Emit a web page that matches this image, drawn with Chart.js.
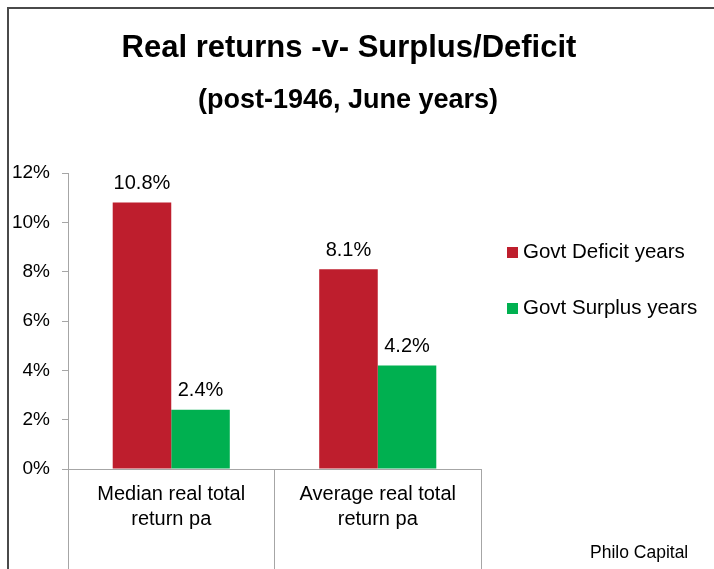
<!DOCTYPE html>
<html>
<head>
<meta charset="utf-8">
<script src="https://cdn.jsdelivr.net/npm/chart.js@4/dist/chart.umd.min.js"></script>
<style>
  html, body { margin: 0; padding: 0; background: #fff; }
  #wrap { width: 714px; height: 569px; position: relative; }
</style>
</head>
<body>
<div id="wrap"><canvas id="myChart" width="714" height="569"></canvas></div>
<script>
// chart data
const categories = [['Median real total', 'return pa'], ['Average real total', 'return pa']];
const deficitYears = [10.8, 8.1];
const surplusYears = [2.4, 4.2];
const seriesNames = ['Govt Deficit years', 'Govt Surplus years'];
const titleText = 'Real returns -v- Surplus/Deficit';
const subtitleText = '(post-1946, June years)';
const sourceText = 'Philo Capital';

const FONT = '"Liberation Sans", Arial, sans-serif';
const RED = '#BE1E2D';
const GREEN = '#00B050';

// frame, titles, value labels, legend and source note
const decorPlugin = {
    id: 'decor',
    beforeDraw(chart) {
        const c = chart.ctx;
        c.save();
        c.strokeStyle = '#4a4a4a';
        c.lineWidth = 2;
        c.beginPath();
        c.moveTo(chart.width, 8);
        c.lineTo(8, 8);
        c.lineTo(8, chart.height);
        c.stroke();
        c.restore();
    },
    afterDraw(chart) {
        const c = chart.ctx;
        c.save();
        c.fillStyle = '#000';
        c.textAlign = 'center';
        c.textBaseline = 'middle';
        c.font = 'bold 31px ' + FONT;
        c.fillText(titleText, 349, 48);
        c.font = 'bold 27px ' + FONT;
        c.fillText(subtitleText, 348, 101);

        // value labels above bars
        c.font = '20px ' + FONT;
        chart.data.datasets.forEach((ds, i) => {
            const meta = chart.getDatasetMeta(i);
            meta.data.forEach((bar, j) => {
                c.fillText(ds.data[j].toFixed(1) + '%', bar.x, bar.y - 19);
            });
        });

        // legend
        c.textAlign = 'left';
        c.font = '20.5px ' + FONT;
        chart.data.datasets.forEach((ds, i) => {
            const y = 252 + i * 56;
            c.fillStyle = ds.backgroundColor;
            c.fillRect(507, y - 5, 11, 11);
            c.fillStyle = '#000';
            c.fillText(ds.label, 523, y);
        });

        c.font = '17.5px ' + FONT;
        c.fillText(sourceText, 590, 553);
        c.restore();
    }
};

const ctx = document.getElementById('myChart').getContext('2d');
new Chart(ctx, {
    type: 'bar',
    data: {
        labels: categories,
        datasets: [
            { label: seriesNames[0], data: deficitYears, backgroundColor: RED },
            { label: seriesNames[1], data: surplusYears, backgroundColor: GREEN }
        ]
    },
    options: {
        responsive: false,
        animation: false,
        layout: { padding: { top: 173, right: 233, left: 0, bottom: 0 } },
        plugins: {
            legend: { display: false },
            title: { display: false },
            tooltip: { enabled: false }
        },
        datasets: {
            bar: { categoryPercentage: 0.567, barPercentage: 1.0 }
        },
        scales: {
            x: {
                afterFit: (s) => { s.height = 100; },
                border: { color: '#A6A6A6', width: 1 },
                grid: {
                    offset: true,
                    drawOnChartArea: false,
                    tickLength: 100,
                    color: '#A6A6A6'
                },
                ticks: {
                    padding: -87,
                    color: '#000',
                    font: { family: FONT, size: 20, lineHeight: 1.25 }
                }
            },
            y: {
                min: 0,
                max: 12,
                afterFit: (s) => { s.width = 68; },
                border: { color: '#A6A6A6', width: 1 },
                grid: { drawOnChartArea: false, tickLength: 6, color: '#A6A6A6' },
                ticks: {
                    stepSize: 2,
                    padding: 12,
                    color: '#000',
                    font: { family: FONT, size: 19 },
                    callback: (v) => v + '%'
                }
            }
        }
    },
    plugins: [decorPlugin]
});
</script>
</body>
</html>
